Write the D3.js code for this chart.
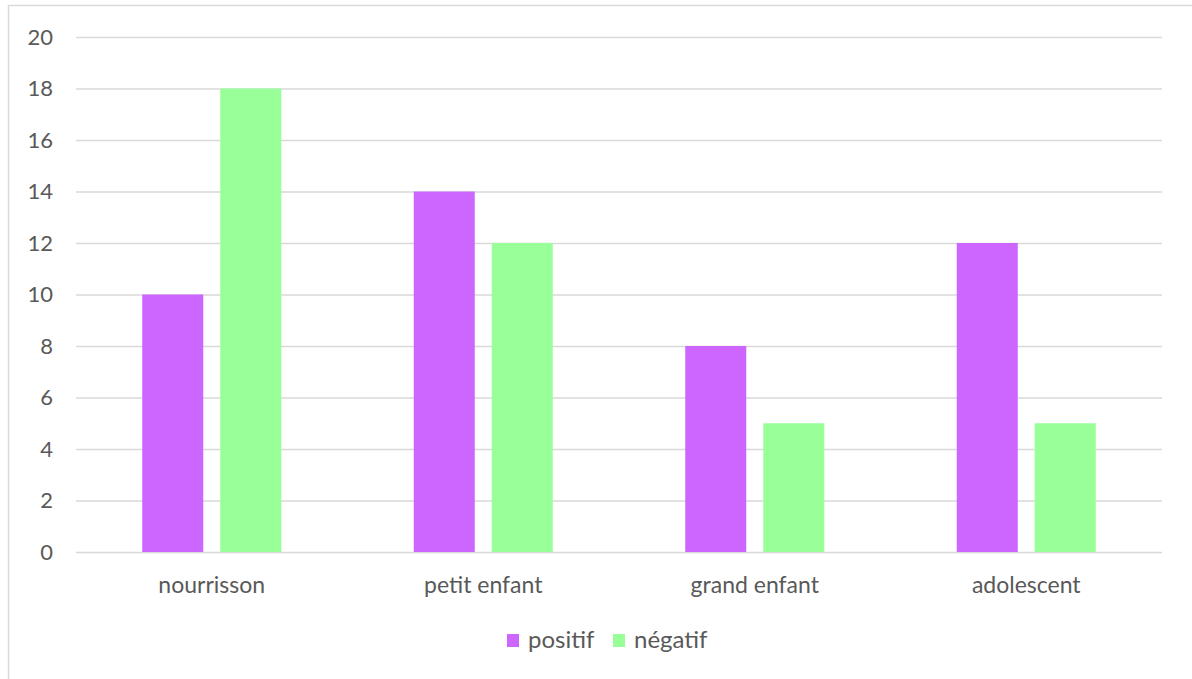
<!DOCTYPE html>
<html>
<head>
<meta charset="utf-8">
<script src="https://cdn.jsdelivr.net/npm/d3@7"></script>
<style>
  html, body { margin: 0; padding: 0; background: #fff; }
  svg { display: block; font-family: Lato, "Open Sans", sans-serif; }
</style>
</head>
<body>
<div id="chart"></div>
<script>
// Data ////////////////////////////////////////////////////////////////
const categories = ['nourrisson', 'petit enfant', 'grand enfant', 'adolescent'];
const series = ['positif', 'négatif'];
const positif = [10, 14, 8, 12];
const negatif = [18, 12, 5, 5];
const yTicks = [0, 2, 4, 6, 8, 10, 12, 14, 16, 18, 20];

const width = 1192, height = 679;
const colors = { 'positif': '#cc66ff', 'négatif': '#99ff99' };
const textColor = '#595959';

const rows = categories.map((c, i) => ({ cat: c, 'positif': positif[i], 'négatif': negatif[i] }));

// SVG setup ///////////////////////////////////////////////////////////
const svg = d3.select('#chart').append('svg')
  .attr('width', width)
  .attr('height', height)
  .attr('viewBox', [0, 0, width, height]);

// chart frame (runs off the right and bottom edges)
svg.append('rect')
  .attr('x', 8.5).attr('y', 5.5)
  .attr('width', width + 10).attr('height', height + 10)
  .attr('fill', '#fff')
  .attr('stroke', '#d9d9d9')
  .attr('stroke-width', 1.5);

const margin = { left: 76, right: 1162, top: 37, bottom: 552 };

const x = d3.scaleBand().domain(categories).range([margin.left, margin.right]);
const y = d3.scaleLinear().domain([0, 20]).range([margin.bottom, margin.top]);

// gridlines + y labels
const yAxis = svg.append('g')
  .attr('transform', `translate(${margin.left},0)`)
  .call(d3.axisLeft(y).tickValues(yTicks).tickSize(-(margin.right - margin.left)).tickPadding(23));
yAxis.select('.domain').remove();
yAxis.attr('font-size', null).attr('font-family', null);
yAxis.selectAll('.tick line').attr('stroke', '#d9d9d9').attr('stroke-width', 1.5);
yAxis.selectAll('.tick text')
  .attr('fill', textColor)
  .style('font-size', '22px')
  .style('font-family', 'Lato, sans-serif');

// bars
const barW = 61, gap = 17;
const xs = d3.scaleOrdinal().domain(series).range([-(barW + gap / 2), gap / 2]);

svg.append('g').selectAll('g')
  .data(rows)
  .join('g')
  .attr('transform', d => `translate(${x(d.cat) + x.bandwidth() / 2},0)`)
  .selectAll('rect')
  .data(d => series.map(s => ({ s, v: d[s] })))
  .join('rect')
  .attr('x', d => xs(d.s))
  .attr('y', d => y(d.v))
  .attr('width', barW)
  .attr('height', d => y(0) - y(d.v))
  .attr('fill', d => colors[d.s]);

// category labels
svg.append('g').selectAll('text')
  .data(categories)
  .join('text')
  .attr('x', d => x(d) + x.bandwidth() / 2)
  .attr('y', 593)
  .attr('text-anchor', 'middle')
  .attr('fill', textColor)
  .style('font-size', '23px')
  .text(d => d);

// legend
const legend = svg.append('g');
const legendX = [507, 613];
series.forEach((s, i) => {
  legend.append('rect')
    .attr('x', legendX[i]).attr('y', 634)
    .attr('width', 12).attr('height', 13)
    .attr('fill', colors[s]);
  legend.append('text')
    .attr('x', legendX[i] + 21).attr('y', 648)
    .attr('fill', textColor)
    .style('font-size', '24px')
    .text(s);
});
</script>
</body>
</html>
